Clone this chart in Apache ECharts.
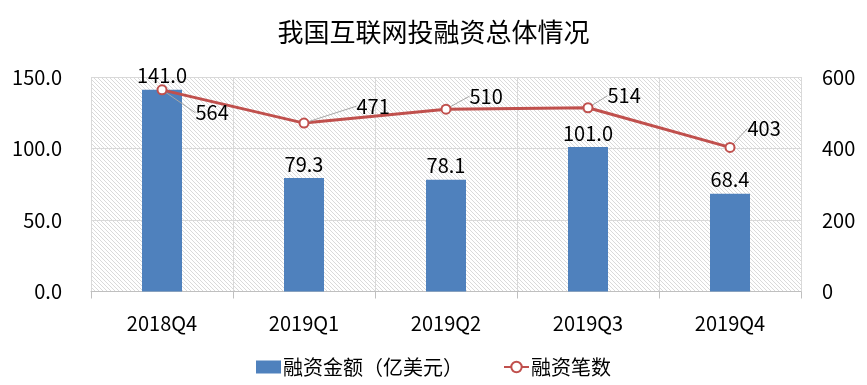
<!DOCTYPE html>
<html>
<head>
<meta charset="utf-8">
<script src="https://cdn.jsdelivr.net/npm/echarts@6/dist/echarts.min.js"></script>
<style>html,body{margin:0;padding:0;background:#fff}#c{width:867px;height:385px}</style>
</head>
<body>
<div id="c"></div>
<script>
const title = '我国互联网投融资总体情况';
const categories = ['2018Q4', '2019Q1', '2019Q2', '2019Q3', '2019Q4'];
const amountName = '融资金额（亿美元）';
const amountValues = [141.0, 79.3, 78.1, 101.0, 68.4];
const countName = '融资笔数';
const countValues = [564, 471, 510, 514, 403];
const leftTicks = [0, 50, 100, 150];
const rightTicks = [0, 200, 400, 600];

// label offsets (style only)
const lineLabelShift = [[23, 23], [42, -17], [13, -13], [9, -12], [7, -19]];

const FONT = '"Noto Sans CJK SC", "Noto Sans", sans-serif';

// hatch pattern
const tile = document.createElement('canvas');
tile.width = 4; tile.height = 4;
const tctx = tile.getContext('2d');
tctx.fillStyle = '#ffffff';
tctx.fillRect(0, 0, 4, 4);
tctx.fillStyle = '#dadada';
for (let i = 0; i < 4; i++) tctx.fillRect(i, i, 1, 1);

const chart = echarts.init(document.getElementById('c'), null, {renderer: 'canvas'});
chart.setOption({
  animation: false,
  backgroundColor: '#fff',
  textStyle: {fontFamily: FONT},
  title: {
    text: title, left: 'center', top: 14,
    textStyle: {fontFamily: FONT, fontSize: 26, fontWeight: 'normal', color: '#000'}
  },
  legend: {
    left: 'center', top: 352,
    itemWidth: 25, itemHeight: 13, itemGap: 40,
    textStyle: {fontFamily: FONT, fontSize: 20, color: '#000', padding: [0, 0, 0, -3]},
    data: [
      {name: amountName, icon: 'rect'},
      {name: countName}
    ]
  },
  grid: {
    left: 91, right: 66, top: 77, bottom: 93.5,
    show: true, borderWidth: 0,
    backgroundColor: {image: tile, repeat: 'repeat'}
  },
  xAxis: {
    type: 'category', data: categories, boundaryGap: true,
    axisLine: {show: true, lineStyle: {color: '#bfbfbf', width: 1}},
    axisTick: {show: true, length: 7, alignWithLabel: false, lineStyle: {color: '#bfbfbf'}},
    splitLine: {show: true, lineStyle: {color: '#d9d9d9', width: 1}},
    axisLabel: {fontFamily: FONT, fontSize: 20, color: '#000', margin: 22}
  },
  yAxis: [
    {
      type: 'value', min: leftTicks[0], max: leftTicks[leftTicks.length - 1], interval: 50,
      axisLine: {show: false}, axisTick: {show: false},
      splitLine: {show: true, lineStyle: {color: '#d9d9d9', width: 1}},
      axisLabel: {fontFamily: FONT, fontSize: 20, color: '#000', margin: 29,
        formatter: v => v.toFixed(1)}
    },
    {
      type: 'value', min: rightTicks[0], max: rightTicks[rightTicks.length - 1], interval: 200,
      axisLine: {show: false}, axisTick: {show: false}, splitLine: {show: false},
      axisLabel: {fontFamily: FONT, fontSize: 20, color: '#000', margin: 21}
    }
  ],
  series: [
    {
      name: amountName, type: 'bar', yAxisIndex: 0, data: amountValues,
      barWidth: 40,
      itemStyle: {color: '#4f81bd'},
      label: {show: true, position: 'top', distance: 4, fontFamily: FONT, fontSize: 20, color: '#000',
        formatter: p => p.value.toFixed(1)}
    },
    {
      name: countName, type: 'line', yAxisIndex: 1, data: countValues,
      symbol: 'emptyCircle', symbolSize: 9,
      lineStyle: {color: '#c0504d', width: 3},
      itemStyle: {color: '#c0504d', borderWidth: 2},
      label: {show: true, position: 'right', distance: 5, fontFamily: FONT, fontSize: 20, color: '#000'},
      labelLine: {show: true, lineStyle: {color: '#a6a6a6', width: 1}},
      labelLayout: p => ({dx: lineLabelShift[p.dataIndex][0], dy: lineLabelShift[p.dataIndex][1]})
    }
  ]
});
</script>
</body>
</html>
